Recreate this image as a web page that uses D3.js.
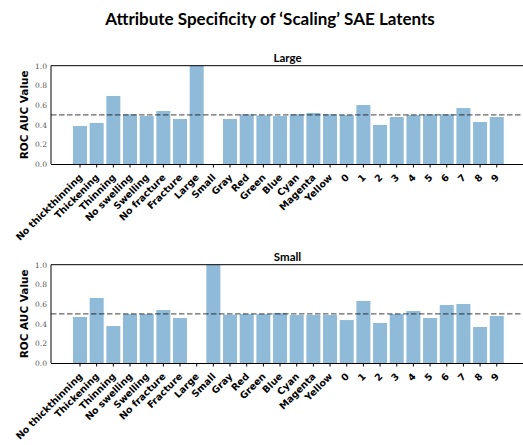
<!DOCTYPE html>
<html>
<head>
<meta charset="utf-8">
<script src="https://cdn.jsdelivr.net/npm/d3@7"></script>
<style>
  body { margin: 0; background: #fff; }
  text { font-family: "Lato", "DejaVu Sans", sans-serif; }
</style>
</head>
<body>
<script>
var categories = ["No thickthinning","Thickening","Thinning","No swelling","Swelling",
  "No fracture","Fracture","Large","Small","Gray","Red","Green","Blue","Cyan",
  "Magenta","Yellow","0","1","2","3","4","5","6","7","8","9"];

// null = no bar drawn
var largeValues = [0.386,0.417,0.692,0.505,0.488,0.539,0.458,1.0,null,0.458,0.505,0.495,
  0.488,0.505,0.519,0.505,0.498,0.600,0.397,0.478,0.498,0.505,0.505,0.569,0.427,0.478];
var smallValues = [0.468,0.661,0.376,0.498,0.498,0.539,0.458,null,1.0,0.492,0.498,0.498,
  0.508,0.488,0.488,0.488,0.437,0.631,0.407,0.498,0.529,0.458,0.590,0.600,0.366,0.478];

var yTicks = [0.0,0.2,0.4,0.6,0.8,1.0];
var baseline = 0.5;

var W = 523, H = 445;
var svg = d3.select("body").append("svg")
  .attr("width", W).attr("height", H);

svg.append("text")
  .attr("x", 270).attr("y", 25)
  .attr("text-anchor", "middle")
  .style("font-size", "17px").style("font-weight", "bold")
  .text("Attribute Specificity of \u2018Scaling\u2019 SAE Latents");

var left = 51, right = 524;
var pitch = 16.67;
var x = d3.scaleBand()
  .domain(categories)
  .range([80 - pitch / 2, 80 - pitch / 2 + pitch * categories.length])
  .paddingInner(0).paddingOuter(0);
var barW = pitch * 0.84;

function panel(title, values, top, bottom) {
  var y = d3.scaleLinear().domain([0, 1]).range([bottom, top]);
  var g = svg.append("g");

  g.append("text")
    .attr("x", (left + right) / 2).attr("y", top - 4)
    .attr("text-anchor", "middle")
    .style("font-size", "11.5px").style("font-weight", "bold")
    .text(title);

  g.selectAll("rect.bar")
    .data(categories.map(function(c, i){ return {c: c, v: values[i]}; })
      .filter(function(d){ return d.v != null; }))
    .enter().append("rect")
    .attr("class", "bar")
    .attr("x", function(d){ return x(d.c) + (x.bandwidth() - barW) / 2; })
    .attr("width", barW)
    .attr("y", function(d){ return y(d.v); })
    .attr("height", function(d){ return y(0) - y(d.v); })
    .attr("fill", "#8fbbd9");

  g.append("line")
    .attr("x1", left).attr("x2", right)
    .attr("y1", y(baseline)).attr("y2", y(baseline))
    .attr("stroke", "#000").attr("stroke-opacity", 0.6)
    .attr("stroke-width", 1.3)
    .attr("stroke-dasharray", "5.5,2.5");

  // spines
  g.append("line").attr("x1", left).attr("x2", right).attr("y1", top).attr("y2", top)
    .attr("stroke", "#000").attr("stroke-width", 1);
  g.append("line").attr("x1", left).attr("x2", left).attr("y1", top).attr("y2", bottom)
    .attr("stroke", "#000").attr("stroke-width", 1);

  var yAxis = g.append("g")
    .attr("transform", "translate(" + left + ",0)")
    .call(d3.axisLeft(y).tickValues(yTicks).tickFormat(d3.format(".1f")).tickSize(0).tickPadding(4));
  yAxis.select(".domain").remove();
  yAxis.selectAll("text")
    .style("font-family", "'DejaVu Serif', serif")
    .style("font-size", "7.5px").attr("fill", "#555");

  var xAxis = g.append("g")
    .attr("transform", "translate(0," + bottom + ")")
    .call(d3.axisBottom(x).tickSize(3.5).tickSizeOuter(0));
  xAxis.select(".domain").attr("d", "M" + left + ",0.5H" + right);
  xAxis.selectAll("text")
    .style("font-family", "'DejaVu Sans', sans-serif")
    .style("font-size", "9.5px").style("font-weight", "bold")
    .attr("fill", "#000")
    .attr("text-anchor", "end")
    .attr("y", 0).attr("dy", 0)
    .attr("transform", "translate(3,14) rotate(-45)");

  g.append("text")
    .attr("transform", "translate(28," + (top + bottom) / 2 + ") rotate(-90)")
    .attr("text-anchor", "middle")
    .style("font-family", "'DejaVu Sans', sans-serif")
    .style("font-size", "10.5px").style("font-weight", "bold")
    .text("ROC AUC Value");
}

panel("Large", largeValues, 65.7, 164);
panel("Small", smallValues, 264.7, 363);
</script>
</body>
</html>
